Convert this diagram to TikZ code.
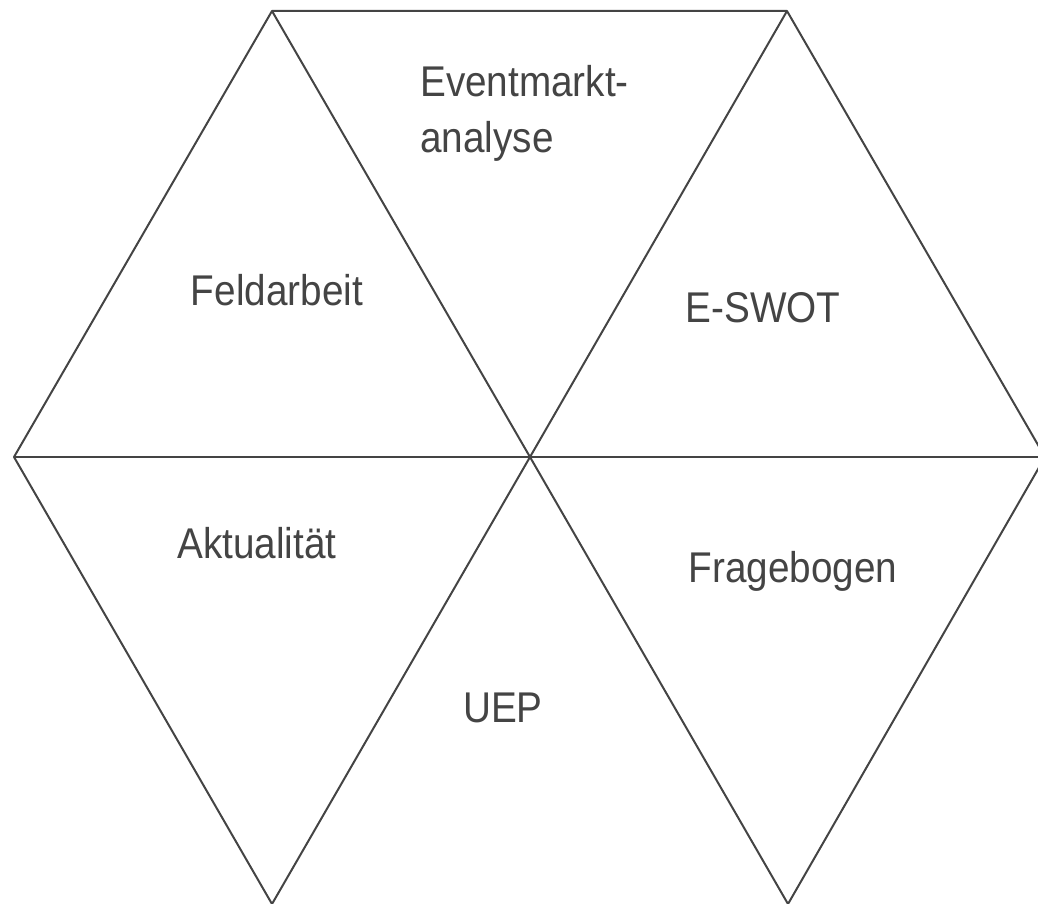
\documentclass[tikz,border=0pt]{standalone}
\usepackage{fontspec}
\setmainfont[FakeStretch=0.9]{Liberation Sans}
\definecolor{edge}{HTML}{444444}
\definecolor{txt}{HTML}{444444}
\tikzset{
  hexline/.style={draw=edge, line width=2pt, line join=round},
  lbl/.style={text=txt, font=\fontsize{43}{51}\selectfont, inner sep=0pt, anchor=base}
}
\begin{document}
\begin{tikzpicture}[x=1pt, y=-1pt]
\useasboundingbox (0,0) rectangle (1038,904);
\clip (0,0) rectangle (1038,904);
\coordinate (L) at (14,457);
\coordinate (TL) at (272,11);
\coordinate (TR) at (787,11);
\coordinate (R) at (1045,457);
\coordinate (BL) at (272,904);
\coordinate (BR) at (788,904);
\coordinate (C) at (530,457);
\draw[hexline] (BL) -- (L) -- (TL) -- (TR) -- (R) -- (BR);
\draw[hexline] (L) -- (R);
\draw[hexline] (TL) -- (C) -- (TR);
\draw[hexline] (BL) -- (C) -- (BR);
\node[lbl, anchor=base west] (em1) at (420,97) {Eventmarkt-};
\node[lbl, anchor=base west] (em2) at (420,153) {analyse};
\node[lbl] (feld) at (277,305) {Feldarbeit};
\node[lbl] (swot) at (763,322) {E-SWOT};
\node[lbl] (akt) at (257,558) {Aktualität};
\node[lbl] (frage) at (793,582) {Fragebogen};
\node[lbl] (uep) at (503,722) {UEP};
\end{tikzpicture}
\end{document}
